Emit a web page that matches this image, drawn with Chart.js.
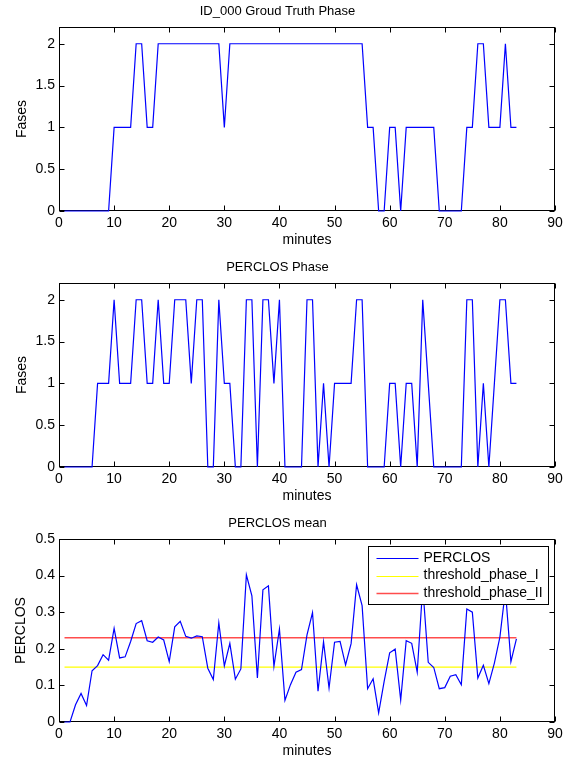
<!DOCTYPE html>
<html><head><meta charset="utf-8">
<script src="https://cdn.jsdelivr.net/npm/chart.js@4.4.0/dist/chart.umd.min.js"></script>
<style>
html,body{margin:0;padding:0;background:#fff;}
#wrap{position:relative;width:571px;height:761px;overflow:hidden;background:#fff;}
canvas{position:absolute;left:0;}
</style></head><body>
<div id="wrap">
<canvas id="c1" width="571" height="256" style="top:0px"></canvas>
<canvas id="c2" width="571" height="256" style="top:256px"></canvas>
<canvas id="c3" width="571" height="249" style="top:512px"></canvas>
</div>
<script>
// ---------- data ----------
const minutes = [1,2,3,4,5,6,7,8,9,10,11,12,13,14,15,16,17,18,19,20,21,22,23,24,25,26,27,28,29,30,
  31,32,33,34,35,36,37,38,39,40,41,42,43,44,45,46,47,48,49,50,51,52,53,54,55,56,57,58,59,60,
  61,62,63,64,65,66,67,68,69,70,71,72,73,74,75,76,77,78,79,80,81,82,83];

const groundTruthPhase = [0,0,0,0,0,0,0,0,0,1,1,1,1,2,2,1,1,2,2,2,2,2,2,2,2,2,2,2,2,1,
  2,2,2,2,2,2,2,2,2,2,2,2,2,2,2,2,2,2,2,2,2,2,2,2,2,1,1,0,0,1,
  1,0,1,1,1,1,1,1,0,0,0,0,0,1,1,2,2,1,1,1,2,1,1];

const perclosPhase = [0,0,0,0,0,0,1,1,1,2,1,1,1,2,2,1,1,2,1,1,2,2,2,1,2,2,0,0,2,1,
  1,0,0,2,2,0,2,2,1,2,0,0,0,0,2,2,0,1,0,1,1,1,1,2,2,0,0,0,0,1,
  1,0,1,1,0,2,1,0,0,0,0,0,0,2,2,0,1,0,1,2,2,1,1];

const perclosMean = [0,0,0.047,0.078,0.045,0.14,0.154,0.184,0.169,0.256,0.175,0.178,0.22,0.269,0.277,
  0.222,0.218,0.232,0.224,0.165,0.26,0.275,0.234,0.229,0.235,0.233,0.147,0.116,0.271,0.153,
  0.215,0.117,0.145,0.402,0.345,0.12,0.361,0.372,0.152,0.254,0.059,0.102,0.136,0.143,0.238,
  0.299,0.084,0.219,0.093,0.218,0.22,0.156,0.214,0.375,0.318,0.091,0.118,0.025,0.111,0.189,
  0.199,0.06,0.222,0.215,0.136,0.37,0.163,0.149,0.091,0.094,0.125,0.129,0.102,0.309,0.3,
  0.12,0.155,0.105,0.161,0.232,0.36,0.165,0.227];

const thresholdMinutes = [1, 83];
const thresholdPhaseI = [0.15, 0.15];
const thresholdPhaseII = [0.23, 0.23];

const xTicks = [0,10,20,30,40,50,60,70,80,90];
const phaseTicks = [0,0.5,1,1.5,2];
const perclosTicks = [0,0.1,0.2,0.3,0.4,0.5];

const titles = ['ID_000 Groud Truth Phase', 'PERCLOS Phase', 'PERCLOS mean'];
const legendLabels = ['PERCLOS', 'threshold_phase_I', 'threshold_phase_II'];
const seriesColors = ['#0000ff', '#ffff00', '#ff4d4d'];
const seriesWidths = [1.2, 1.2, 1.6];

// ---------- helpers ----------
const FONT = '"Liberation Sans", Arial, Helvetica, sans-serif';
const pts = (xs, ys) => xs.map((x, i) => ({x: x, y: ys[i]}));

const framePlugin = {
  id: 'matlabFrame',
  beforeDatasetsDraw(chart) {
    const {ctx, chartArea: a} = chart;
    const xs = chart.scales.x, ys = chart.scales.y;
    ctx.save();
    ctx.strokeStyle = '#000';
    ctx.lineWidth = 1;
    const L = Math.round(a.left) + 0.5, R = Math.round(a.right) - 0.5;
    const T = Math.round(a.top) + 0.5, B = Math.round(a.bottom) - 0.5;
    ctx.strokeRect(L, T, R - L, B - T);
    const tl = 5;
    ctx.beginPath();
    xs.ticks.forEach(t => {
      const px = Math.round(xs.getPixelForValue(t.value)) + 0.5;
      ctx.moveTo(px, B); ctx.lineTo(px, B - tl);
      ctx.moveTo(px, T); ctx.lineTo(px, T + tl);
    });
    ys.ticks.forEach(t => {
      const py = Math.round(ys.getPixelForValue(t.value)) + 0.5;
      ctx.moveTo(L, py); ctx.lineTo(L + tl, py);
      ctx.moveTo(R, py); ctx.lineTo(R - tl, py);
    });
    ctx.stroke();
    ctx.restore();
  }
};

const legendPlugin = {
  id: 'boxLegend',
  afterDraw(chart, args, opts) {
    if (!opts || !opts.show) return;
    const {ctx, chartArea: a} = chart;
    const w = 180, h = 58;
    const x0 = Math.round(a.right - 7 - w) + 0.5, y0 = Math.round(a.top + 6.5) + 0.5;
    ctx.save();
    ctx.fillStyle = '#fff';
    ctx.fillRect(x0, y0, w, h);
    ctx.strokeStyle = '#000';
    ctx.lineWidth = 1;
    ctx.strokeRect(x0, y0, w, h);
    ctx.font = '14px ' + FONT;
    ctx.textBaseline = 'middle';
    ctx.textAlign = 'left';
    const dsets = chart.data.datasets;
    for (let i = 0; i < dsets.length; i++) {
      const yy = y0 + 11.5 + i * 17.6;
      ctx.beginPath();
      ctx.strokeStyle = seriesColors[i];
      ctx.lineWidth = seriesWidths[i];
      ctx.moveTo(x0 + 8, Math.round(yy) + 0.5);
      ctx.lineTo(x0 + 50, Math.round(yy) + 0.5);
      ctx.stroke();
      ctx.fillStyle = '#000';
      ctx.fillText(dsets[i].label, x0 + 55, yy);
    }
    ctx.restore();
  }
};

function makeOptions(title, yLabel, yMin, yMax, yTicks, xHeight, xTitlePadB, yTitlePadT, showLegend) {
  return {
    responsive: false,
    animation: false,
    devicePixelRatio: 1,
    clip: false,
    layout: {padding: {left: 0, right: 16, top: 0, bottom: 0}},
    plugins: {
      legend: {display: false},
      tooltip: {enabled: false},
      title: {
        display: true, text: title, color: '#000',
        font: {family: FONT, size: 13, weight: 'normal'},
        padding: {top: 3.9, bottom: 7.5}
      },
      boxLegend: {show: showLegend}
    },
    elements: {point: {radius: 0}, line: {tension: 0, borderWidth: 1}},
    scales: {
      x: {
        type: 'linear', min: 0, max: 90,
        grid: {display: false, drawTicks: false},
        border: {display: false},
        afterBuildTicks: s => { s.ticks = xTicks.map(v => ({value: v})); },
        afterFit: s => { s.height = xHeight; },
        ticks: {autoSkip: false, maxRotation: 0, padding: 4, color: '#000',
          font: {family: FONT, size: 14}, callback: v => String(v)},
        title: {display: true, text: 'minutes', color: '#000',
          font: {family: FONT, size: 14}, padding: {top: 0, bottom: xTitlePadB}}
      },
      y: {
        type: 'linear', min: yMin, max: yMax,
        grid: {display: false, drawTicks: false},
        border: {display: false},
        afterBuildTicks: s => { s.ticks = yTicks.map(v => ({value: v})); },
        afterFit: s => { s.width = 59; },
        ticks: {padding: 4, color: '#000', font: {family: FONT, size: 14},
          callback: v => String(v)},
        title: {display: true, text: yLabel, color: '#000',
          font: {family: FONT, size: 14}, padding: {top: yTitlePadT, bottom: 0}}
      }
    }
  };
}

new Chart(document.getElementById('c1'), {
  type: 'line',
  data: {datasets: [{label: 'Ground truth', data: pts(minutes, groundTruthPhase),
    borderColor: seriesColors[0], borderWidth: seriesWidths[0], pointRadius: 0, fill: false}]},
  options: makeOptions(titles[0], 'Fases', 0, 2.2, phaseTicks, 45, 7.6, 13.6, false),
  plugins: [framePlugin, legendPlugin]
});

new Chart(document.getElementById('c2'), {
  type: 'line',
  data: {datasets: [{label: 'PERCLOS phase', data: pts(minutes, perclosPhase),
    borderColor: seriesColors[0], borderWidth: seriesWidths[0], pointRadius: 0, fill: false}]},
  options: makeOptions(titles[1], 'Fases', 0, 2.2, phaseTicks, 45, 7.6, 13.6, false),
  plugins: [framePlugin, legendPlugin]
});

new Chart(document.getElementById('c3'), {
  type: 'line',
  data: {datasets: [
    {label: legendLabels[0], data: pts(minutes, perclosMean),
      borderColor: seriesColors[0], borderWidth: seriesWidths[0], pointRadius: 0, fill: false},
    {label: legendLabels[1], data: pts(thresholdMinutes, thresholdPhaseI),
      borderColor: seriesColors[1], borderWidth: seriesWidths[1], pointRadius: 0, fill: false},
    {label: legendLabels[2], data: pts(thresholdMinutes, thresholdPhaseII),
      borderColor: seriesColors[2], borderWidth: seriesWidths[2], pointRadius: 0, fill: false}
  ]},
  options: makeOptions(titles[2], 'PERCLOS', 0, 0.5, perclosTicks, 39, 1.6, 12.6, true),
  plugins: [framePlugin, legendPlugin]
});
</script>
</body></html>
